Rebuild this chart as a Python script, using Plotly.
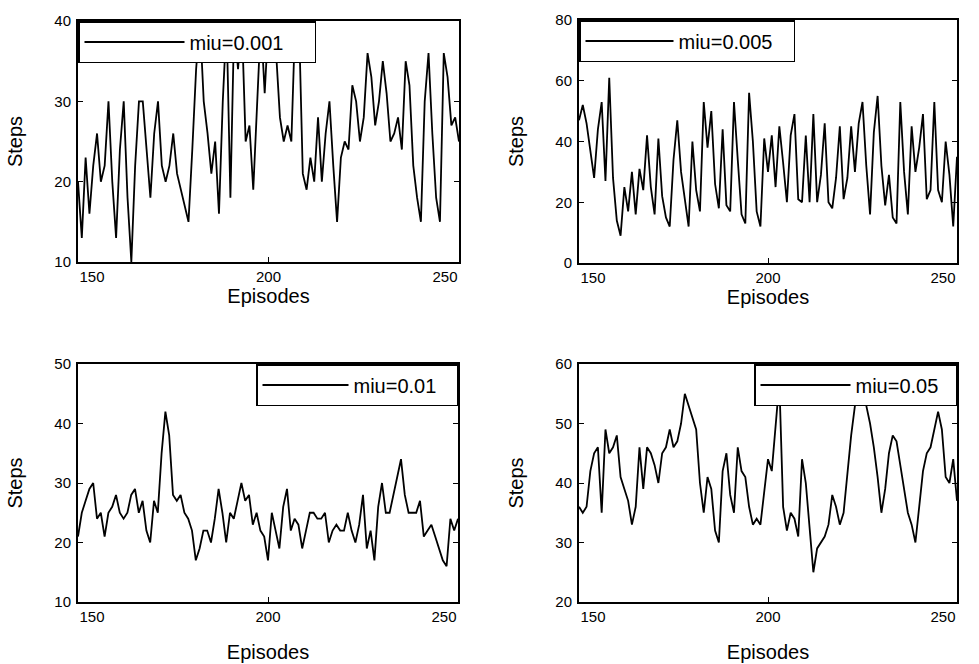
import plotly.graph_objects as go

episodes = list(range(150, 251))

steps_miu_0001 = [
    20, 13, 23, 16, 22, 26, 20, 22, 30, 20,
    13, 24, 30, 18, 10, 22, 30, 30, 24, 18,
    26, 30, 22, 20, 22, 26, 21, 19, 17, 15,
    24, 34, 40, 30, 26, 21, 25, 16, 30, 40,
    18, 40, 34, 40, 25, 27, 19, 30, 40, 31,
    40, 40, 36, 28, 25, 27, 25, 40, 40, 21,
    19, 23, 20, 28, 20, 26, 30, 22, 15, 23,
    25, 24, 32, 30, 25, 28, 36, 33, 27, 30,
    35, 31, 25, 26, 28, 24, 35, 32, 22, 18,
    15, 30, 36, 26, 18, 15, 36, 33, 27, 28,
    25,
]

steps_miu_0005 = [
    47, 52, 46, 36, 28, 44, 53, 27, 61, 28,
    14, 9, 25, 17, 30, 16, 31, 24, 42, 25,
    16, 41, 22, 15, 12, 34, 47, 30, 20, 12,
    40, 24, 17, 53, 38, 50, 26, 18, 44, 19,
    17, 53, 34, 16, 13, 56, 40, 17, 12, 41,
    30, 42, 25, 45, 33, 20, 42, 49, 21, 20,
    42, 20, 49, 20, 29, 46, 20, 18, 28, 45,
    21, 28, 45, 30, 46, 53, 32, 16, 43, 55,
    32, 19, 29, 15, 13, 53, 30, 16, 45, 30,
    38, 49, 21, 24, 53, 24, 20, 40, 29, 12,
    35,
]

steps_miu_001 = [
    21, 25, 27, 29, 30, 24, 25, 21, 25, 26,
    28, 25, 24, 25, 28, 29, 25, 27, 22, 20,
    27, 25, 35, 42, 38, 28, 27, 28, 25, 24,
    22, 17, 19, 22, 22, 20, 24, 29, 25, 20,
    25, 24, 27, 30, 27, 28, 23, 25, 22, 21,
    17, 25, 22, 19, 26, 29, 22, 24, 23, 19,
    22, 25, 25, 24, 24, 25, 20, 22, 23, 22,
    22, 25, 22, 20, 23, 28, 19, 22, 17, 26,
    30, 25, 25, 28, 31, 34, 28, 25, 25, 25,
    27, 21, 22, 23, 21, 19, 17, 16, 24, 22,
    24,
]

steps_miu_005 = [
    36, 35, 36, 42, 45, 46, 35, 49, 45, 46,
    48, 41, 39, 37, 33, 36, 46, 39, 46, 45,
    43, 40, 45, 46, 49, 46, 47, 50, 55, 53,
    51, 49, 40, 35, 41, 39, 32, 30, 42, 45,
    38, 35, 46, 42, 41, 36, 33, 34, 33, 39,
    44, 42, 50, 57, 36, 32, 35, 34, 31, 44,
    40, 33, 25, 29, 30, 31, 33, 38, 36, 33,
    35, 42, 48, 53, 55, 55, 53, 50, 46, 41,
    35, 39, 45, 48, 47, 43, 39, 35, 33, 30,
    36, 42, 45, 46, 49, 52, 49, 41, 40, 44,
    37,
]

series_names = ["miu=0.001", "miu=0.005", "miu=0.01", "miu=0.05"]
series_values = [steps_miu_0001, steps_miu_0005, steps_miu_001, steps_miu_005]
x_ticks = [150, 200, 250]
x_tick_labels = ["150", "200", "250"]
y_ranges = [[10, 40], [0, 80], [10, 50], [20, 60]]
y_ticks = [[10, 20, 30, 40], [0, 20, 40, 60, 80], [10, 20, 30, 40, 50], [20, 30, 40, 50, 60]]

W, H = 979, 664
FONT = "Liberation Sans, Arial, sans-serif"

# pixel boxes of the four plot areas: (left, right, top, bottom)
boxes = [(78, 459, 21, 262), (579, 957, 20, 263), (78, 458, 364, 602), (579, 957, 364, 602)]
legend_pos = [
    dict(x=78 / W, y=1 - 21 / H, xanchor="left", yanchor="top"),
    dict(x=579 / W, y=1 - 20 / H, xanchor="left", yanchor="top"),
    dict(x=458 / W, y=1 - 364 / H, xanchor="right", yanchor="top"),
    dict(x=957 / W, y=1 - 364 / H, xanchor="right", yanchor="top"),
]
legend_itemwidth = [100, 88, 86, 90]
legend_entrywidth = [120, 110, 98, 95]
xtitle_standoff = [0, 0, 21, 21]

fig = go.Figure()
layout = dict(
    width=W, height=H,
    margin=dict(l=0, r=0, t=0, b=0, autoexpand=False),
    paper_bgcolor="white", plot_bgcolor="white",
    font=dict(family=FONT, size=16, color="black"),
    showlegend=True,
)

tickfont = dict(family=FONT, size=15, color="black")
next_axis = 5
for i, (name, vals) in enumerate(zip(series_names, series_values)):
    sfx = "" if i == 0 else str(i + 1)
    lg = "legend" if i == 0 else f"legend{i + 1}"
    fig.add_trace(go.Scatter(
        x=episodes, y=vals, mode="lines", name=name,
        line=dict(color="black", width=1.8),
        xaxis=f"x{sfx}", yaxis=f"y{sfx}", legend=lg,
    ))
    l, r, t, b = boxes[i]
    common = dict(
        showline=True, linecolor="black", linewidth=2, mirror="ticks",
        ticks="inside", ticklen=5, tickcolor="black", tickwidth=1,
        showgrid=False, zeroline=False, automargin=False,
        tickfont=tickfont,
    )
    # main x axis: tick marks at all positions, centred label only for the middle one
    layout[f"xaxis{sfx}"] = dict(
        common, domain=[l / W, r / W], range=[150, 250],
        tickvals=x_ticks, ticktext=["", x_tick_labels[1], ""],
        anchor=f"y{sfx}",
        title=dict(text="Episodes", standoff=xtitle_standoff[i], font=dict(family=FONT, size=20)),
    )
    # end labels kept inside the frame, as in the original
    for tv, tt, pos in [(x_ticks[0], x_tick_labels[0], "outside right"),
                        (x_ticks[-1], x_tick_labels[-1], "outside left")]:
        ax_id = next_axis
        next_axis += 1
        layout[f"xaxis{ax_id}"] = dict(
            overlaying=f"x{sfx}", anchor=f"y{sfx}", range=[150, 250],
            tickvals=[tv], ticktext=[tt], ticklabelposition=pos,
            showline=True, linecolor="rgba(0,0,0,0)", linewidth=2,
            ticks="inside", ticklen=5, tickcolor="rgba(0,0,0,0)", tickwidth=1,
            showgrid=False, zeroline=False,
            automargin=False, tickfont=tickfont, side="bottom",
        )
        fig.add_trace(go.Scatter(
            x=[], y=[], mode="lines", showlegend=False, hoverinfo="skip",
            xaxis=f"x{ax_id}", yaxis=f"y{sfx}",
        ))
    layout[f"yaxis{sfx}"] = dict(
        common, domain=[1 - b / H, 1 - t / H], range=y_ranges[i], tickvals=y_ticks[i],
        anchor=f"x{sfx}", ticklabelstandoff=2,
        title=dict(text="Steps", standoff=26, font=dict(family=FONT, size=20)),
    )
    layout[lg] = dict(
        legend_pos[i], bgcolor="white", bordercolor="black", borderwidth=1.5,
        orientation="h",
        font=dict(family=FONT, size=20, color="black"),
        itemwidth=legend_itemwidth[i], entrywidth=legend_entrywidth[i],
    )

fig.update_layout(**layout)
fig.write_html(
    "out.html",
    config={"displayModeBar": False},
    post_script="document.body.style.margin='0';document.body.style.overflow='hidden';",
)
